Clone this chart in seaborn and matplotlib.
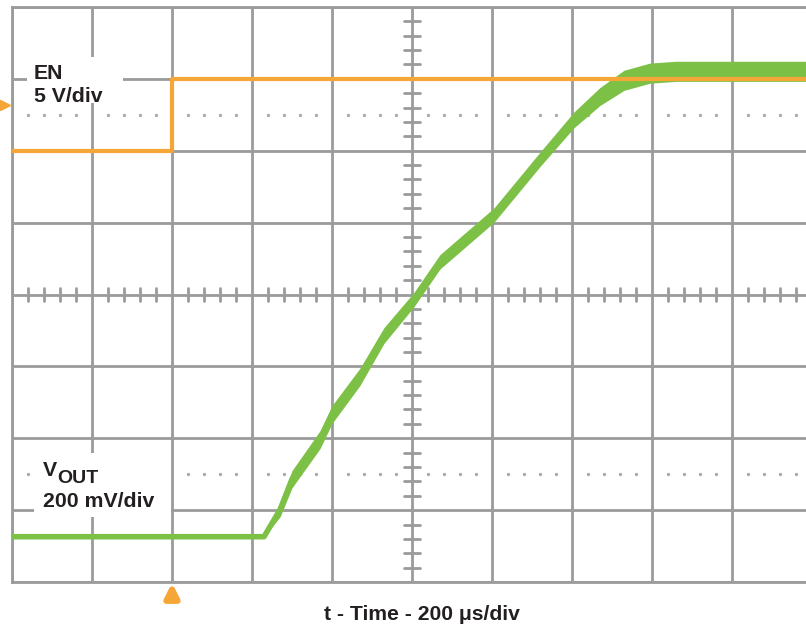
import matplotlib
matplotlib.use('Agg')
import matplotlib.pyplot as plt
import numpy as np
import seaborn as sns
from matplotlib.patches import Rectangle

# Scope settings
time_per_div = 200      # us/div
en_per_div = 5.0        # V/div
vout_per_div = 0.2      # V/div
en_offset = 2.0         # divisions, EN trace position
vout_offset = -3.37     # divisions, VOUT trace position
en_marker_level = 2.63  # divisions, EN channel marker on left edge

# EN trace (time in us from trigger, volts)
en_time = [-400, 0, 0, 1600]
en_volts = [0.0, 0.0, 5.0, 5.0]

# VOUT trace (time in us, volts) and noise half-width (volts)
vout_time = [-400, 230, 270, 300, 370, 400, 470, 530, 605, 670, 805, 920,
             1005, 1070, 1130, 1195, 1260, 1600]
vout_volts = [0.0, 0.0, 0.075, 0.16, 0.27, 0.34, 0.445, 0.56, 0.66, 0.765,
              0.895, 1.05, 1.16, 1.225, 1.27, 1.29, 1.295, 1.295]
vout_noise = [0.0, 0.0, 0.02, 0.024, 0.025, 0.025, 0.024, 0.022, 0.02, 0.02,
              0.02, 0.02, 0.022, 0.025, 0.028, 0.028, 0.028, 0.028]

orange = '#F6A537'
green = '#7CC145'
grid_gray = '#9B9B9B'
text_color = '#231F20'

sns.set_style('white')
plt.rcParams['font.family'] = ['Liberation Sans', 'DejaVu Sans']

fig = plt.figure(figsize=(8.06, 6.29), dpi=100)
# axes spans 10 divisions, right edge falls just outside the picture
ax = fig.add_axes([12 / 806, 47 / 629, 800 / 806, 575 / 629])

t_min, t_max = -400, -400 + 10 * time_per_div
ax.set_xlim(t_min, t_max)
ax.set_ylim(-4, 4)

# graticule
ax.set_xticks(np.arange(t_min, t_max + 1, time_per_div))
ax.set_yticks(np.arange(-4, 5, 1))
ax.tick_params(length=0, labelbottom=False, labelleft=False)
ax.grid(True, color=grid_gray, linewidth=2)
ax.set_axisbelow(True)
for side, sp in ax.spines.items():
    sp.set_color(grid_gray)
    sp.set_linewidth(2)
    sp.set_zorder(0.6)
ax.spines['right'].set_visible(False)

t_center = (t_min + t_max) / 2
minor_t = [t for t in np.arange(t_min, t_max + 1, time_per_div / 5) if (t - t_min) % time_per_div != 0]
minor_y = [y for y in np.arange(-4, 4.01, 0.2) if abs(y - round(y)) > 1e-6]

# center cross minor ticks
for t in minor_t:
    ax.plot([t, t], [-0.085, 0.085], color=grid_gray, lw=2, zorder=0.6)
for y in minor_y:
    ax.plot([t_center - 20, t_center + 20], [y, y], color=grid_gray, lw=2, zorder=0.6)

# dotted cursor rows at +/-2.5 div
for y in (2.5, -2.5):
    ax.plot(minor_t, [y] * len(minor_t), linestyle='none', marker='o',
            markersize=1.4, color='#AAAAAA', zorder=0.6)

# white label boxes
ax.add_patch(Rectangle((-362.5, 2.66), 240, 0.64, facecolor='white',
                       edgecolor='none', zorder=1))
ax.add_patch(Rectangle((-345, -3.09), 342, 0.89, facecolor='white',
                       edgecolor='none', zorder=1))

# traces
vt = np.array(vout_volts) / vout_per_div + vout_offset
vn = np.array(vout_noise) / vout_per_div
ax.fill_between(vout_time, vt - vn, vt + vn, color=green, linewidth=0, zorder=2)
sns.lineplot(x=vout_time, y=vt, ax=ax, color=green, linewidth=4,
             estimator=None, sort=False, zorder=2)

en_div = np.array(en_volts) / en_per_div + en_offset
sns.lineplot(x=en_time, y=en_div, ax=ax, color=orange, linewidth=3,
             estimator=None, sort=False, zorder=3)

# channel and trigger markers
ax.plot([-417], [en_marker_level], marker='>', markersize=7, color=orange,
        clip_on=False, zorder=3)
ax.annotate('', xy=(0, -4.01), xytext=(0, -4.21), annotation_clip=False,
            arrowprops=dict(arrowstyle='-|>', color=orange, lw=4.5,
                            mutation_scale=20, shrinkA=0, shrinkB=0))

# labels
fs = 15.3
ax.text(-345, 3.0, 'EN', fontsize=fs, fontweight='bold', va='baseline',
        color=text_color, zorder=4)
ax.text(-345, 2.68, '5 V/div', fontsize=fs, fontweight='bold', va='baseline',
        color=text_color, zorder=4)
ax.text(-322.5, -2.52, 'V', fontsize=fs, fontweight='bold', va='baseline',
        color=text_color, zorder=4)
ax.text(-287.5, -2.62, 'OUT', fontsize=14, fontweight='bold', va='baseline',
        color=text_color, zorder=4)
ax.text(-322.5, -2.95, '200 mV/div', fontsize=fs, fontweight='bold',
        va='baseline', color=text_color, zorder=4)

fig.text(422 / 806, 1 - 614 / 629, 't - Time - 200 μs/div', fontsize=15.2,
         fontweight='bold', ha='center', va='center', color=text_color)

fig.savefig('out.png', dpi=100)
